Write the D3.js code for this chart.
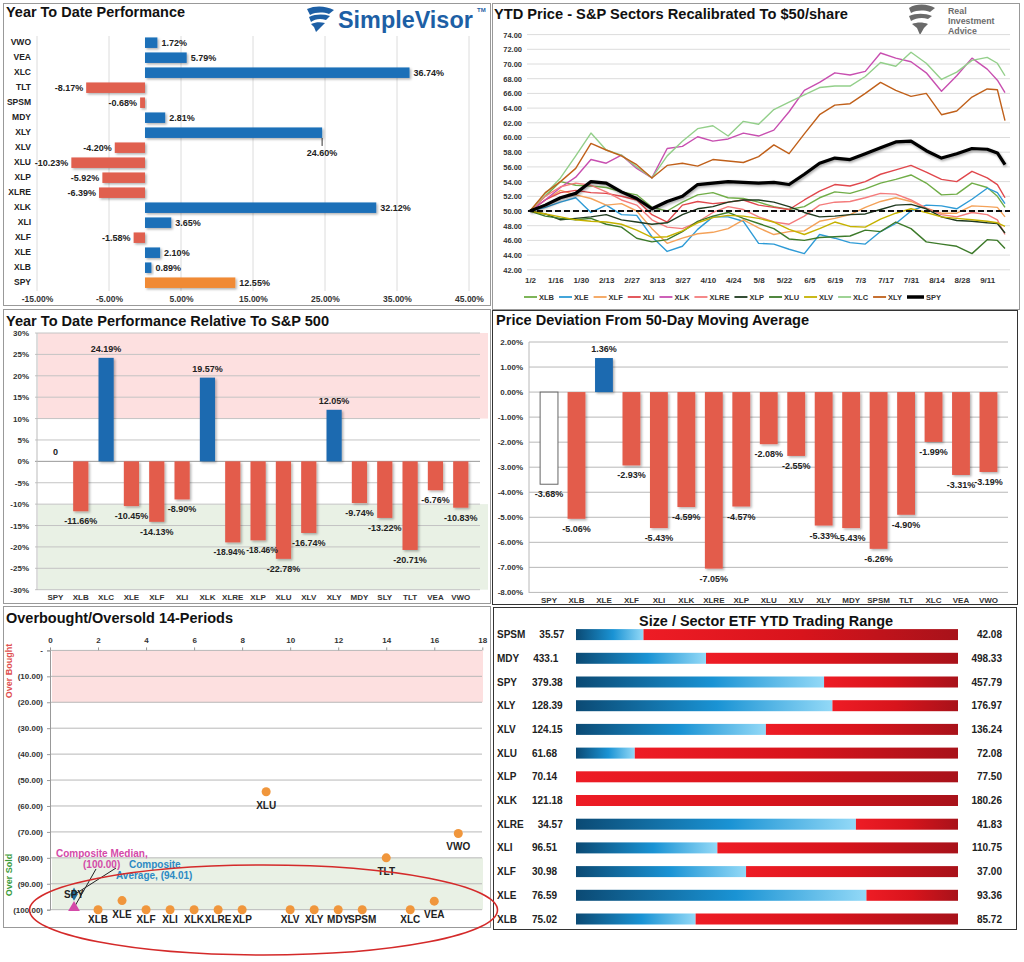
<!DOCTYPE html>
<html><head><meta charset="utf-8">
<script src="https://cdn.jsdelivr.net/npm/d3@7"></script>
<style>
body{margin:0;background:#fff;}
svg{display:block;font-family:Arial,"Liberation Sans",sans-serif;}
</style></head><body>
<script>
// ================= DATA =================
// Panel 1: YTD performance
const ytdTickers = ["VWO","VEA","XLC","TLT","SPSM","MDY","XLY","XLV","XLU","XLP","XLRE","XLK","XLI","XLF","XLE","XLB","SPY"];
const ytdValues  = [1.72,5.79,36.74,-8.17,-0.68,2.81,24.60,-4.20,-10.23,-5.92,-6.39,32.12,3.65,-1.58,2.10,0.89,12.55];
const ytdTicks   = [-15,-5,5,15,25,35,45];

// Panel 2: recalibrated prices (trading-day index)
const lineDays = [0,6,12,18,24,30,36,42,48,54,60,66,72,78,84,90,96,102,108,114,120,126,132,138,144,150,156,162,168,174,180,184,187];
const dateTickDays   = [0,10,20,30,40,50,60,70,80,90,100,110,120,130,140,150,160,170,180];
const dateTickLabels = ["1/2","1/16","1/30","2/13","2/27","3/13","3/27","4/10","4/24","5/8","5/22","6/5","6/19","7/3","7/17","7/31","8/14","8/28","9/11"];
const priceTicks = [42,44,46,48,50,52,54,56,58,60,62,64,66,68,70,72,74];
const seriesNames  = ["XLB","XLE","XLF","XLI","XLK","XLRE","XLP","XLU","XLV","XLC","XLY","SPY"];
const seriesColors = ["#70ad47","#2e9bd6","#f4a259","#e0474c","#c84fb0","#f47c7c","#1f3a1f","#3d7a2a","#c5b200","#93cf8a","#c0601a","#000000"];
const XLB  = [50,52,54,53.5,53.4,53.2,52.6,52.2,50.5,50,51.2,52.2,52.5,51.8,51.7,51.2,50.6,50.2,50.6,51.8,52.6,52.4,53,53.8,54.3,54.9,53.8,52.2,52.3,53.8,53.2,52.0,50.5];
const XLE  = [50,50.5,51.2,51.8,49.8,50.8,49.5,49.4,46.5,44.5,45.2,47.5,49.2,49.2,48.6,45.6,45.5,44.8,44.2,46.8,46.3,45.7,45.5,47.2,48.3,50,50.8,50.7,50.3,51.6,53.1,52.5,51.0];
const XLF  = [50,51.5,52.8,52.2,51.7,50.8,51.0,50.0,47.6,45.6,46.3,46.9,47.1,47.6,48.8,47.7,46.8,47.2,47.3,48.6,49.0,49.5,50.5,51.3,51.8,51.3,50.4,49.7,49.7,50.7,50.6,50.5,49.2];
const XLI  = [50,51.5,52.5,52.8,52.5,52.4,52.0,51.5,49.5,48.5,50.8,51.3,51,51.2,51.5,50.8,50.5,50.2,51.5,52.7,53.6,53.4,54.0,55.0,55.6,56.2,55.3,54.3,54.0,55.4,54.5,53.6,51.8];
const XLK  = [50,51.5,53.2,54.6,57.0,56.5,57.6,55.8,54.5,58.5,58.8,60.1,59.5,59.8,60.6,60.2,61,63.5,66.4,67.5,68.8,68.5,69.0,71.5,70.8,70.3,68.8,66.3,68.4,70.8,69.3,67.8,66.1];
const XLRE = [50,52,53.3,53.8,53.5,52.6,51.5,50.8,48.8,47.8,47.6,48.5,49.8,50.6,50.2,49.2,48.5,48.2,49.3,50.8,51.2,51.3,51.8,52.4,52.3,51.5,50.4,49.5,49.2,49.8,49.5,48.8,46.8];
const XLP  = [50,49.6,48.8,49.0,49.2,49.5,48.8,48.5,48.2,48.4,49.5,50.3,50.6,51.2,51.5,51.5,51.2,50.6,49.8,49.2,49.3,49.5,49.6,50.2,50.8,50.9,50.3,49.2,48.7,48.6,48.4,48.3,47.0];
const XLU  = [50,49.3,49,48.8,49,48.2,47.8,46.3,45.8,46.1,47.2,48.6,49.3,49.8,49.0,48.3,47.6,46.2,46.0,46.4,46.5,46.6,47.4,47.2,48.5,47.6,45.8,45.5,45.2,44.2,46.1,46.0,44.9];
const XLV  = [50,49.6,49.2,48.8,48.6,48.5,48.2,47.4,46.4,46.5,47.3,48.4,49.1,49.4,49.3,49.0,48.5,47.5,46.8,47.6,48.5,47.9,47.8,48.9,49.7,50.3,49.8,49.2,49.0,48.8,48.6,48.4,47.9];
const XLC  = [50,52.3,54.5,57.5,60.6,58.3,57.6,56,54.5,57.5,59.5,61.2,61.6,60.2,62.2,61.8,63.8,64.8,65.8,66.8,67.0,67.0,68.3,70.2,69.7,71.6,70.1,67.9,68.9,70.5,70.9,70.1,68.4];
const XLY  = [50,52.5,54.0,55.8,59.2,58.3,57.5,56.3,54.5,56.2,56.5,56.1,57.0,56.8,56.6,57.4,59.0,57.8,60.5,63.1,64.4,64.6,66.0,67.5,66.4,65.6,66.0,63.1,63.6,65.5,66.6,66.5,62.3];
const SPY  = [50,50.8,51.8,52.4,54,53.8,52.6,51.7,50.3,51.3,52,53.6,53.8,54,53.9,53.8,53.9,53.6,55,56.5,57.2,57,57.8,58.6,59.4,59.5,58.2,57.2,57.8,58.5,58.4,57.9,56.3];
const seriesValues = [XLB,XLE,XLF,XLI,XLK,XLRE,XLP,XLU,XLV,XLC,XLY,SPY];

// Panel 3: relative to S&P 500
const relTickers = ["SPY","XLB","XLC","XLE","XLF","XLI","XLK","XLRE","XLP","XLU","XLV","XLY","MDY","SLY","TLT","VEA","VWO"];
const relValues  = [0,-11.66,24.19,-10.45,-14.13,-8.90,19.57,-18.94,-18.46,-22.78,-16.74,12.05,-9.74,-13.22,-20.71,-6.76,-10.83];
const relTicks   = [-30,-25,-20,-15,-10,-5,0,5,10,15,20,25,30];

// Panel 4: deviation from 50-DMA
const devTickers = ["SPY","XLB","XLE","XLF","XLI","XLK","XLRE","XLP","XLU","XLV","XLY","MDY","SPSM","TLT","XLC","VEA","VWO"];
const devValues  = [-3.68,-5.06,1.36,-2.93,-5.43,-4.59,-7.05,-4.57,-2.08,-2.55,-5.33,-5.43,-6.26,-4.90,-1.99,-3.31,-3.19];
const devTicks   = [-8,-7,-6,-5,-4,-3,-2,-1,0,1,2];

// Panel 5: overbought / oversold
const obosTickers = ["XLB","XLE","XLF","XLI","XLK","XLRE","XLP","XLU","XLV","XLY","MDY","SPSM","TLT","XLC","VEA","VWO"];
const obosX = [2,3,4,5,6,7,8,9,10,11,12,13,14,15,16,17];
const obosY = [-100,-96.5,-100,-100,-100,-100,-100,-54.5,-100,-100,-100,-100,-80,-100,-96.7,-70.6];
const obosXTicks = [0,2,4,6,8,10,12,14,16,18];
const obosYTicks = [0,-10,-20,-30,-40,-50,-60,-70,-80,-90,-100];
const compositeAvg = -94.01, compositeMedian = -100, compositeX = 1;

// Panel 6: trading range
const rangeTickers = ["SPSM","MDY","SPY","XLY","XLV","XLU","XLP","XLK","XLRE","XLI","XLF","XLE","XLB"];
const rangeLow     = [35.57,433.1,379.38,128.39,124.15,61.68,70.14,121.18,34.57,96.51,30.98,76.59,75.02];
const rangeHigh    = [42.08,498.33,457.79,176.97,136.24,72.08,77.50,180.26,41.83,110.75,37.00,93.36,85.72];
const rangeCurrent = [36.72,455.3,430.3,161.0,130.16,63.28,70.14,121.18,39.89,101.78,33.66,89.34,78.37];

// ================= DRAW =================
const FONT = 'Arial,"Liberation Sans",sans-serif';
const svg = d3.select("body").append("svg").attr("width",1024).attr("height",962);
const defs = svg.append("defs");
const sh = defs.append("filter").attr("id","shadow").attr("x","-20%").attr("y","-20%").attr("width","150%").attr("height","150%");
sh.append("feDropShadow").attr("dx",1.5).attr("dy",1.5).attr("stdDeviation",1).attr("flood-color","#000").attr("flood-opacity",0.3);
const sh2 = defs.append("filter").attr("id","lshadow").attr("x","-5%").attr("y","-20%").attr("width","110%").attr("height","150%");
sh2.append("feDropShadow").attr("dx",1).attr("dy",1.5).attr("stdDeviation",1.2).attr("flood-color","#000").attr("flood-opacity",0.35);
const bgd = defs.append("linearGradient").attr("id","blueGrad").attr("x1",0).attr("x2",1).attr("y1",0).attr("y2",0);
[[0,"#0b4a74"],[0.55,"#1a93d4"],[1,"#93d9f7"]].forEach(s=>bgd.append("stop").attr("offset",s[0]).attr("stop-color",s[1]));
const rgd = defs.append("linearGradient").attr("id","redGrad").attr("x1",0).attr("x2",1).attr("y1",0).attr("y2",0);
[[0,"#ee1c25"],[0.5,"#d8141c"],[1,"#a8121a"]].forEach(s=>rgd.append("stop").attr("offset",s[0]).attr("stop-color",s[1]));

const panels = [[3,3,487,302,"#999"],[492,3,527,306,"#999"],[3,309,487,294,"#999"],[492,310,525,294,"#333"],[3,606,487,321,"#999"],[493,607,523,322,"#333"]];
svg.selectAll("rect.panel").data(panels).join("rect").attr("class","panel")
  .attr("x",d=>d[0]+0.5).attr("y",d=>d[1]+0.5).attr("width",d=>d[2]).attr("height",d=>d[3])
  .attr("fill","#fff").attr("stroke",d=>d[4]);

function title(x,y,text,w,size,anchor){
  svg.append("text").attr("x",x).attr("y",y).attr("font-size",size).attr("font-weight","bold")
    .attr("fill","#111").attr("text-anchor",anchor||"start").attr("textLength",w)
    .attr("lengthAdjust","spacingAndGlyphs").text(text);
}
function styleAxis(g,size,fill){
  g.attr("font-family",FONT).attr("font-size",size).attr("font-weight","bold");
  g.selectAll("text").attr("fill",fill||"#333");
  g.select(".domain").remove();
}

// ---------- Panel 1 ----------
title(6,17,"Year To Date Performance",179,14.5);
// SimpleVisor logo
const lg1 = svg.append("g").attr("fill","#1d5fa5");
lg1.append("path").attr("d","M307,9 C316,5 326,6 334,10 L329,14 C323,12 316,12 310,15 Z");
lg1.append("path").attr("d","M309,17 C316,14 323,14 330,16 L326,20 C320,18 315,19 311,22 Z");
lg1.append("path").attr("d","M311,24 C316,22 320,22 325,23 L321,27 L316,32 L314,27 Z");
svg.append("text").attr("x",338).attr("y",28).attr("font-size",23.4).attr("font-weight","bold").attr("fill","#1d5fa5").text("SimpleVisor");
svg.append("text").attr("x",477).attr("y",12).attr("font-size",6).attr("font-weight","bold").attr("fill","#1d5fa5").text("TM");

const x1 = d3.scaleLinear().domain([-15,45]).range([37,469]);
const y1 = d3.scaleBand().domain(ytdTickers).range([35.2,290.2]).paddingInner(0.3).paddingOuter(0.15);
const g1 = svg.append("g");
g1.selectAll("line.grid").data(ytdTicks).join("line").attr("x1",d=>x1(d)).attr("x2",d=>x1(d))
  .attr("y1",36).attr("y2",291).attr("stroke","#dcdcdc");
const ax1 = g1.append("g").attr("transform","translate(0,291)")
  .call(d3.axisBottom(x1).tickValues(ytdTicks).tickSize(0).tickPadding(5).tickFormat(d=>d.toFixed(2)+"%"));
styleAxis(ax1,8.5);
const ay1 = g1.append("g").attr("transform","translate(31,0)").call(d3.axisLeft(y1).tickSize(0).tickPadding(0));
styleAxis(ay1,8.5,"#222");
const ytd = ytdTickers.map((t,i)=>({t,v:ytdValues[i]}));
g1.selectAll("rect.bar").data(ytd).join("rect")
  .attr("x",d=>Math.min(x1(0),x1(d.v))).attr("width",d=>Math.abs(x1(d.v)-x1(0)))
  .attr("y",d=>y1(d.t)).attr("height",y1.bandwidth())
  .attr("fill",d=>d.t==="SPY"?"#f08a35":(d.v>=0?"#1b6fb8":"#e0604f")).attr("filter","url(#shadow)");
g1.selectAll("text.val").data(ytd).join("text")
  .attr("font-size",9).attr("font-weight","bold").attr("fill","#222")
  .attr("x",d=>d.t==="XLY"?x1(d.v):(d.v>=0?x1(d.v)+4:x1(d.v)-3))
  .attr("y",d=>d.t==="XLY"?y1(d.t)+y1.bandwidth()+18:y1(d.t)+y1.bandwidth()/2+3.5)
  .attr("text-anchor",d=>d.t==="XLY"?"middle":(d.v>=0?"start":"end"))
  .text(d=>d.v.toFixed(2)+"%");
g1.append("line").attr("x1",x1(ytdValues[6])).attr("x2",x1(ytdValues[6]))
  .attr("y1",y1("XLY")+y1.bandwidth()).attr("y2",y1("XLY")+y1.bandwidth()+8).attr("stroke","#333");

// ---------- Panel 2 ----------
title(494,19,"YTD Price - S&P Sectors Recalibrated To $50/share",354,15);
const lg2 = svg.append("g").attr("fill","#6a6a6a");
lg2.append("path").attr("d","M909,8 C917,3 928,4 935,8 L930,12 C924,10 917,10 911,13 Z");
lg2.append("path").attr("d","M909,16 C916,13 925,13 932,16 L928,19 C922,17 916,18 911,21 Z");
lg2.append("path").attr("d","M912,24 C917,22 923,22 928,24 L924,28 L920,35 L917,28 Z");
[["Real",13.5],["Investment",23.8],["Advice",34]].forEach(a=>{
  svg.append("text").attr("x",948).attr("y",a[1]).attr("font-size",8.8).attr("font-weight","bold").attr("fill","#6d6d6d").text(a[0]);
});
const x2 = d3.scaleLinear().domain([0,187]).range([530,1005]);
const y2 = d3.scaleLinear().domain([42,74]).range([269.8,34.6]);
const g2 = svg.append("g");
g2.selectAll("line.grid").data(priceTicks).join("line").attr("x1",527).attr("x2",1010)
  .attr("y1",d=>y2(d)).attr("y2",d=>y2(d)).attr("stroke","#dcdcdc");
const ay2 = g2.append("g").attr("transform","translate(524,0)")
  .call(d3.axisLeft(y2).tickValues(priceTicks).tickSize(0).tickPadding(2).tickFormat(d=>d.toFixed(2)));
styleAxis(ay2,7.5);
const ax2 = g2.append("g").attr("transform","translate(0,271)")
  .call(d3.axisBottom(x2).tickValues(dateTickDays).tickSize(0).tickPadding(6).tickFormat((d,i)=>dateTickLabels[i]));
styleAxis(ax2,8);
const line2 = d3.line().x((d,i)=>x2(lineDays[i])).y(d=>y2(d));
seriesNames.forEach((n,k)=>{
  if(n==="SPY") return;
  g2.append("path").attr("d",line2(seriesValues[k])).attr("fill","none").attr("stroke",seriesColors[k]).attr("stroke-width",1.4).attr("stroke-linejoin","round");
});
g2.append("line").attr("x1",528).attr("x2",1010).attr("y1",y2(50)).attr("y2",y2(50))
  .attr("stroke","#111").attr("stroke-width",2).attr("stroke-dasharray","6,3");
const kS = seriesNames.indexOf("SPY");
g2.append("path").attr("d",line2(seriesValues[kS])).attr("fill","none").attr("stroke","#000").attr("stroke-width",3.2)
  .attr("stroke-linejoin","round").attr("filter","url(#lshadow)");
// legend
let lx = 524;
seriesNames.forEach((n,k)=>{
  const spy = n==="SPY", lw = spy?17:13;
  g2.append("line").attr("x1",lx).attr("x2",lx+lw).attr("y1",297).attr("y2",297)
    .attr("stroke",seriesColors[k]).attr("stroke-width",spy?3.5:1.8);
  const t = g2.append("text").attr("x",lx+lw+2).attr("y",300).attr("font-size",7.5).attr("font-weight","bold").attr("fill","#333").text(n);
  lx += lw + 2 + t.node().getComputedTextLength() + 5;
});

// ---------- Panel 3 ----------
title(6,326,"Year To Date Performance Relative To S&P 500",323,14.5);
const x3 = d3.scaleBand().domain(relTickers).range([37.7,478.5]).padding(0.4);
const y3 = d3.scaleLinear().domain([-30,30]).range([589.7,333]);
const g3 = svg.append("g");
g3.append("rect").attr("x",38).attr("width",450).attr("y",y3(30)).attr("height",y3(10)-y3(30)).attr("fill","#fde0e0");
g3.append("rect").attr("x",38).attr("width",450).attr("y",y3(-10)).attr("height",y3(-30)-y3(-10)).attr("fill","#e9f1e5");
g3.selectAll("line.grid").data(relTicks).join("line").attr("x1",35).attr("x2",480)
  .attr("y1",d=>y3(d)).attr("y2",d=>y3(d)).attr("stroke",d=>d===0?"#999":"#c4c4c4");
g3.append("line").attr("x1",37).attr("x2",37).attr("y1",333).attr("y2",590).attr("stroke","#bbb");
const ay3 = g3.append("g").attr("transform","translate(31,0)")
  .call(d3.axisLeft(y3).tickValues(relTicks).tickSize(0).tickPadding(2).tickFormat(d=>d+"%"));
styleAxis(ay3,8);
const ax3 = g3.append("g").attr("transform","translate(0,590)")
  .call(d3.axisBottom(x3).tickSize(0).tickPadding(4));
styleAxis(ax3,8);
const rel = relTickers.map((t,i)=>({t,v:relValues[i]}));
const relLabelDx = {XLRE:-3.5, XLP:4};
g3.selectAll("rect.bar").data(rel.filter(d=>d.v!==0)).join("rect")
  .attr("x",d=>x3(d.t)).attr("width",x3.bandwidth())
  .attr("y",d=>Math.min(y3(0),y3(d.v))).attr("height",d=>Math.abs(y3(d.v)-y3(0)))
  .attr("fill",d=>d.v>0?"#1f6ab0":"#e35b4b").attr("filter","url(#shadow)");
g3.selectAll("text.val").data(rel).join("text")
  .attr("font-size",d=>relLabelDx[d.t]?8.5:9).attr("font-weight","bold").attr("fill","#222").attr("text-anchor","middle")
  .attr("x",d=>x3(d.t)+x3.bandwidth()/2+(relLabelDx[d.t]||0))
  .attr("y",d=>d.v>=0?y3(d.v)-6:y3(d.v)+13)
  .text(d=>d.v===0?"0":d.v.toFixed(2)+"%");

// ---------- Panel 4 ----------
title(496,325,"Price Deviation From 50-Day Moving Average",313,14.5);
const x4 = d3.scaleBand().domain(devTickers).range([530.5,1007]).padding(0.35);
const y4 = d3.scaleLinear().domain([-8,2]).range([592.4,342]);
const g4 = svg.append("g");
g4.selectAll("line.grid").data(devTicks).join("line").attr("x1",529).attr("x2",1008)
  .attr("y1",d=>y4(d)).attr("y2",d=>y4(d)).attr("stroke","#b8b8b8");
g4.append("line").attr("x1",529).attr("x2",529).attr("y1",342).attr("y2",593).attr("stroke","#b8b8b8");
const ay4 = g4.append("g").attr("transform","translate(525,0)")
  .call(d3.axisLeft(y4).tickValues(devTicks).tickSize(0).tickPadding(2).tickFormat(d=>d.toFixed(2)+"%"));
styleAxis(ay4,8);
const ax4 = g4.append("g").attr("transform","translate(0,593)")
  .call(d3.axisBottom(x4).tickSize(0).tickPadding(4));
styleAxis(ax4,8);
const dev = devTickers.map((t,i)=>({t,v:devValues[i]}));
g4.selectAll("rect.bar").data(dev).join("rect")
  .attr("x",d=>x4(d.t)).attr("width",x4.bandwidth())
  .attr("y",d=>Math.min(y4(0),y4(d.v))).attr("height",d=>Math.abs(y4(d.v)-y4(0)))
  .attr("fill",d=>d.t==="SPY"?"#fff":(d.v>0?"#1f6ab0":"#e35b4b"))
  .attr("stroke",d=>d.t==="SPY"?"#666":"none")
  .attr("filter",d=>d.t==="SPY"?null:"url(#shadow)");
g4.selectAll("text.val").data(dev).join("text")
  .attr("font-size",9).attr("font-weight","bold").attr("fill","#222").attr("text-anchor","middle")
  .attr("x",d=>x4(d.t)+x4.bandwidth()/2)
  .attr("y",d=>d.v>=0?y4(d.v)-6:y4(d.v)+13)
  .text(d=>d.v.toFixed(2)+"%");

// ---------- Panel 5 ----------
title(6,623,"Overbought/Oversold 14-Periods",227,14.5);
const x5 = d3.scaleLinear().domain([0,18]).range([50,482.3]);
const y5 = d3.scaleLinear().domain([-100,0]).range([909.7,650.4]);
const g5 = svg.append("g");
g5.append("rect").attr("x",52).attr("width",431).attr("y",y5(0)).attr("height",y5(-20)-y5(0)).attr("fill","#fde0e0");
g5.append("rect").attr("x",52).attr("width",431).attr("y",y5(-80)).attr("height",y5(-100)-y5(-80)).attr("fill","#e9f1e5");
g5.selectAll("line.grid").data(obosYTicks).join("line").attr("x1",50).attr("x2",482)
  .attr("y1",d=>y5(d)).attr("y2",d=>y5(d)).attr("stroke","#b8b8b8");
const ay5 = g5.append("g").attr("transform","translate(50,0)")
  .call(d3.axisLeft(y5).tickValues(obosYTicks).tickSize(3).tickPadding(4)
    .tickFormat(d=>d===0?"-":"("+Math.abs(d).toFixed(2)+")"));
ay5.attr("font-family",FONT).attr("font-size",8).attr("font-weight","bold");
ay5.selectAll("text").attr("fill","#333");
ay5.selectAll("line,path").attr("stroke","#999");
const ax5 = g5.append("g").attr("transform","translate(0,650.4)")
  .call(d3.axisTop(x5).tickValues(obosXTicks).tickSize(3).tickPadding(4));
ax5.attr("font-family",FONT).attr("font-size",8).attr("font-weight","bold");
ax5.selectAll("text").attr("fill","#333");
ax5.selectAll("line").attr("stroke","#999");
ax5.select(".domain").remove();
svg.append("text").attr("transform","translate(12,671) rotate(-90)").attr("text-anchor","middle")
  .attr("font-size",9).attr("font-weight","bold").attr("fill","#e05050").text("Over Bought");
svg.append("text").attr("transform","translate(12,875) rotate(-90)").attr("text-anchor","middle")
  .attr("font-size",9).attr("font-weight","bold").attr("fill","#3c9c3c").text("Over Sold");
const ob = obosTickers.map((t,i)=>({t,x:obosX[i],y:obosY[i]}));
g5.selectAll("circle.pt").data(ob).join("circle").attr("cx",d=>x5(d.x)).attr("cy",d=>y5(d.y)).attr("r",4.5).attr("fill","#f0963c");
g5.selectAll("text.lab").data(ob).join("text").attr("font-size",10).attr("font-weight","bold").attr("fill","#222")
  .attr("text-anchor","middle").attr("x",d=>x5(d.x)).attr("y",d=>Math.min(y5(d.y)+17,923)).text(d=>d.t);
// composite markers
g5.append("line").attr("x1",96).attr("y1",869).attr("x2",x5(compositeX)).attr("y2",y5(compositeMedian)-2).attr("stroke","#222");
g5.append("line").attr("x1",116).attr("y1",868).attr("x2",x5(compositeX)+1).attr("y2",y5(compositeAvg)).attr("stroke","#222");
g5.append("path").attr("d",d3.symbol(d3.symbolTriangle,60)()).attr("transform",`translate(${x5(compositeX)},${y5(compositeMedian)-2})`).attr("fill","#d44aa8");
g5.append("path").attr("d",d3.symbol(d3.symbolDiamond,50)()).attr("transform",`translate(${x5(compositeX)},${y5(compositeAvg)})`).attr("fill","#1f6f9a");
g5.append("text").attr("x",x5(compositeX)).attr("y",y5(compositeAvg)+4).attr("text-anchor","middle").attr("font-size",10).attr("font-weight","bold").attr("fill","#222").text("SPY");
g5.append("text").attr("x",56).attr("y",857).attr("font-size",10).attr("font-weight","bold").attr("fill","#d44aa8").text("Composite Median,");
g5.append("text").attr("x",83).attr("y",868).attr("font-size",10).attr("font-weight","bold").attr("fill","#d44aa8").text("("+Math.abs(compositeMedian).toFixed(2)+")");
g5.append("text").attr("x",129).attr("y",868).attr("font-size",10).attr("font-weight","bold").attr("fill","#2c8ac4").text("Composite");
g5.append("text").attr("x",116).attr("y",879).attr("font-size",10).attr("font-weight","bold").attr("fill","#2c8ac4").text("Average,  ("+Math.abs(compositeAvg).toFixed(2)+")");

// ---------- Panel 6 ----------
title(766,625.5,"Size / Sector ETF YTD Trading Range",254,14,"middle");
const y6 = d3.scalePoint().domain(rangeTickers).range([634.6,919]);
const g6 = svg.append("g");
rangeTickers.forEach((t,i)=>{
  const cy = y6(t);
  const xs = d3.scaleLinear().domain([rangeLow[i],rangeHigh[i]]).range([576,958]);
  const split = xs(rangeCurrent[i]);
  if(split-576>0.5) g6.append("rect").attr("x",576).attr("y",cy-5.5).attr("width",split-576).attr("height",11).attr("fill","url(#blueGrad)");
  g6.append("rect").attr("x",split).attr("y",cy-5.5).attr("width",958-split).attr("height",11).attr("fill","url(#redGrad)");
  const tk = g6.append("text").attr("x",497).attr("y",cy+3.5).attr("font-size",10).attr("font-weight","bold").attr("fill","#222").text(t);
  const lowX = Math.max(532, 497 + tk.node().getComputedTextLength() + 14);
  g6.append("text").attr("x",lowX).attr("y",cy+3.5).attr("font-size",10).attr("font-weight","bold").attr("fill","#222").text(String(rangeLow[i]));
  g6.append("text").attr("x",1002).attr("y",cy+3.5).attr("text-anchor","end").attr("font-size",10).attr("font-weight","bold").attr("fill","#222").text(rangeHigh[i].toFixed(2));
});

// red ellipse annotation
svg.append("ellipse").attr("cx",263.5).attr("cy",910).attr("rx",234).attr("ry",45)
  .attr("fill","none").attr("stroke","#d42a2a").attr("stroke-width",1.6);
</script></body></html>
